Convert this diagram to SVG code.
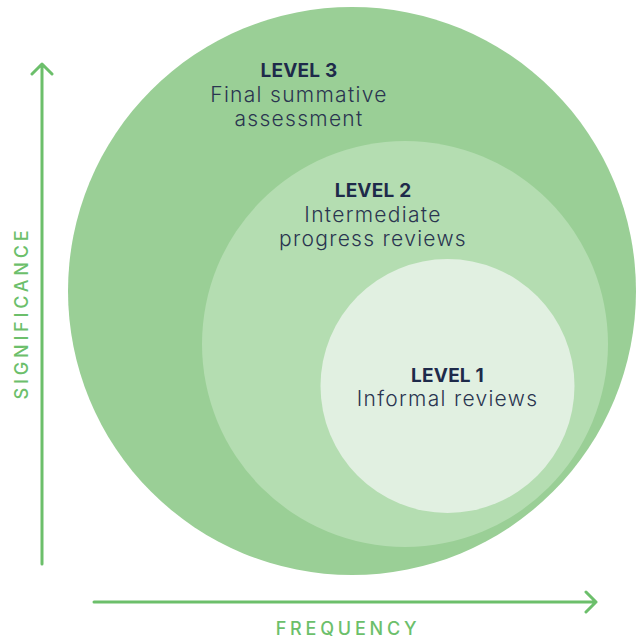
<svg xmlns="http://www.w3.org/2000/svg" width="640" height="639" viewBox="0 0 640 639">
  <defs>
    <style>
      .lvl { font-family: Inter, "Noto Sans", "Liberation Sans", sans-serif; font-weight: 700; font-size: 19px; fill: #1E2A4A; text-anchor: middle; letter-spacing: 0.2px; }
      .desc { font-family: Inter, "Noto Sans", "Liberation Sans", sans-serif; font-weight: 300; font-size: 21px; fill: #2A3550; text-anchor: middle; letter-spacing: 1.3px; }
      .axis { stroke: #6CBF6B; stroke-width: 3; fill: none; stroke-linecap: round; stroke-linejoin: round; }
      .axlabel { font-family: Inter, "Noto Sans", "Liberation Sans", sans-serif; font-weight: 500; font-size: 18px; fill: #6CBF6B; text-anchor: middle; letter-spacing: 3.8px; }
    </style>
  </defs>
  <rect width="640" height="639" fill="#FFFFFF"/>
  <g id="level3">
    <circle cx="352" cy="291" r="284" fill="#9ACF96"/>
    <text class="lvl" x="299" y="77">LEVEL 3</text>
    <text class="desc" x="299" y="102">Final summative</text>
    <text class="desc" x="299" y="126">assessment</text>
  </g>
  <g id="level2">
    <circle cx="405" cy="344" r="203" fill="#B4DDB1"/>
    <text class="lvl" x="373" y="197">LEVEL 2</text>
    <text class="desc" x="373" y="222">Intermediate</text>
    <text class="desc" x="373" y="246">progress reviews</text>
  </g>
  <g id="level1">
    <circle cx="447.5" cy="386" r="127" fill="#E1F0E1"/>
    <text class="lvl" x="447.5" y="382">LEVEL 1</text>
    <text class="desc" x="447.5" y="406">Informal reviews</text>
  </g>
  <g id="connectors">
    <path class="axis" d="M42 564 L42 64 M32 74 L42 64 L52 74"/>
    <path class="axis" d="M94 602 L596 602 M586 592 L596 602 L586 612"/>
  </g>
  <g id="axis-labels">
    <text class="axlabel" x="348" y="635">FREQUENCY</text>
    <text class="axlabel" transform="translate(28 313) rotate(-90)" x="0" y="0">SIGNIFICANCE</text>
  </g>
</svg>
